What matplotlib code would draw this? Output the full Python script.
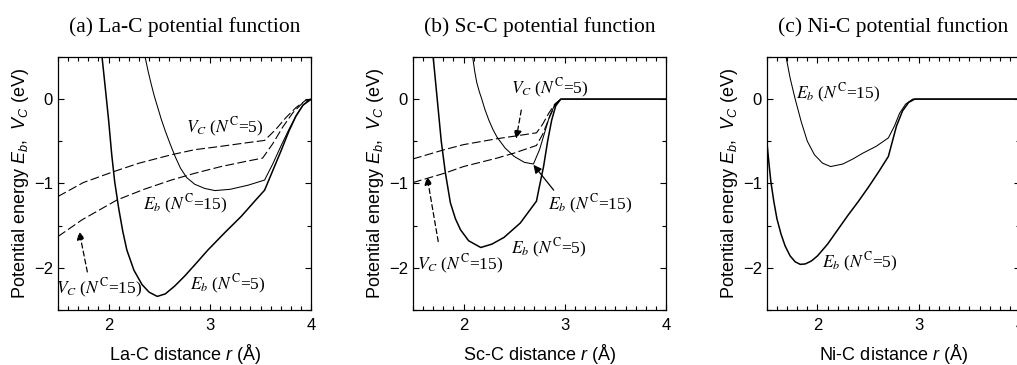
import matplotlib
matplotlib.use("Agg")
import matplotlib.pyplot as plt
from matplotlib.ticker import MultipleLocator

plt.rcParams['font.family'] = ['Liberation Sans', 'DejaVu Sans']
plt.rcParams['mathtext.fontset'] = 'custom'
plt.rcParams['mathtext.rm'] = 'Liberation Sans'
plt.rcParams['mathtext.it'] = 'Liberation Sans:italic'

# ---- (a) La-C ----
la_eb5_r = [1.935, 1.97, 2.0, 2.03, 2.06, 2.1, 2.14, 2.18, 2.25, 2.33, 2.4, 2.48, 2.56, 2.65, 2.75, 2.87,
            2.98, 3.15, 3.31, 3.45, 3.54, 3.62, 3.7, 3.78, 3.85, 3.92, 4.0]
la_eb5_e = [0.5, 0.1, -0.25, -0.65, -0.98, -1.3, -1.57, -1.79, -2.03, -2.2, -2.29, -2.34, -2.31, -2.22, -2.1,
            -1.94, -1.79, -1.58, -1.39, -1.2, -1.08, -0.85, -0.62, -0.38, -0.2, -0.07, 0.0]
la_eb15_r = [2.36, 2.39, 2.42, 2.45, 2.48, 2.52, 2.56, 2.61, 2.66, 2.71, 2.77, 2.85, 2.95, 3.05, 3.2,
             3.38, 3.54, 3.62, 3.7, 3.78, 3.85, 3.92, 4.0]
la_eb15_e = [0.5, 0.33, 0.18, 0.04, -0.08, -0.24, -0.38, -0.54, -0.69, -0.82, -0.93, -1.01, -1.06, -1.085,
             -1.07, -1.02, -0.96, -0.77, -0.56, -0.36, -0.2, -0.07, 0.0]
la_vc5_r = [1.5, 1.75, 2.05, 2.3, 2.62, 2.85, 3.11, 3.35, 3.54, 3.65, 3.75, 3.85, 3.95, 4.0]
la_vc5_e = [-1.155, -0.99, -0.86, -0.76, -0.66, -0.6, -0.56, -0.52, -0.49, -0.36, -0.22, -0.1, -0.01, 0.0]
la_vc15_r = [1.5, 1.74, 2.085, 2.35, 2.62, 2.85, 3.11, 3.35, 3.52, 3.62, 3.72, 3.82, 3.92, 4.0]
la_vc15_e = [-1.63, -1.43, -1.195, -1.07, -0.96, -0.88, -0.8, -0.74, -0.7, -0.53, -0.33, -0.16, -0.04, 0.0]

# ---- (b) Sc-C ----
sc_eb5_r = [1.7, 1.74, 1.78, 1.82, 1.87, 1.92, 1.97, 2.05, 2.17, 2.28, 2.4, 2.56, 2.72, 2.75, 2.79,
            2.83, 2.87, 2.91, 2.96, 4.0]
sc_eb5_e = [0.5, 0.0, -0.5, -0.87, -1.23, -1.42, -1.55, -1.68, -1.76, -1.72, -1.64, -1.47, -1.21, -1.03,
            -0.8, -0.5, -0.25, -0.08, 0.0, 0.0]
sc_eb15_r = [2.09, 2.11, 2.13, 2.155, 2.18, 2.21, 2.25, 2.29, 2.33, 2.41, 2.5, 2.6, 2.69, 2.75, 2.8,
             2.85, 2.9, 2.96, 4.0]
sc_eb15_e = [0.5, 0.33, 0.2, 0.09, 0.0, -0.12, -0.25, -0.36, -0.45, -0.58, -0.68, -0.75, -0.77, -0.6,
             -0.4, -0.2, -0.07, 0.0, 0.0]
sc_vc5_r = [1.5, 1.81, 2.0, 2.33, 2.5, 2.72, 2.78, 2.84, 2.9, 2.96]
sc_vc5_e = [-0.71, -0.6, -0.54, -0.47, -0.44, -0.4, -0.3, -0.17, -0.06, 0.0]
sc_vc15_r = [1.5, 1.81, 2.0, 2.33, 2.5, 2.72, 2.78, 2.84, 2.9, 2.96]
sc_vc15_e = [-0.99, -0.88, -0.8, -0.7, -0.64, -0.55, -0.42, -0.24, -0.08, 0.0]

# ---- (c) Ni-C ----
ni_eb5_r = [1.5, 1.52, 1.54, 1.57, 1.6, 1.64, 1.68, 1.73, 1.78, 1.83, 1.88, 1.94, 2.0, 2.1, 2.2, 2.3,
            2.4, 2.5, 2.6, 2.7, 2.78, 2.84, 2.9, 2.96, 4.0]
ni_eb5_e = [-0.5, -0.75, -0.98, -1.22, -1.42, -1.6, -1.74, -1.86, -1.93, -1.96, -1.955, -1.92, -1.86,
            -1.72, -1.55, -1.38, -1.22, -1.05, -0.87, -0.68, -0.32, -0.14, -0.04, 0.0, 0.0]
ni_eb15_r = [1.69, 1.73, 1.78, 1.84, 1.9, 1.97, 2.05, 2.13, 2.25, 2.35, 2.45, 2.58, 2.7, 2.76, 2.81,
             2.87, 2.94, 4.0]
ni_eb15_e = [0.5, 0.25, 0.0, -0.27, -0.5, -0.66, -0.76, -0.8, -0.77, -0.71, -0.64, -0.56, -0.46,
             -0.32, -0.17, -0.06, 0.0, 0.0]

titles = ['(a) La-C potential function', '(b) Sc-C potential function', '(c) Ni-C potential function']
xlabels = ['La-C distance $r$ (Å)', 'Sc-C distance $r$ (Å)', 'Ni-C distance $r$ (Å)']
ylabel = 'Potential energy $E_b$,  $V_C$ (eV)'

fig = plt.figure(figsize=(10.17, 3.65), dpi=100)
lefts = [0.057, 0.406, 0.754]
axes = [fig.add_axes([l, 0.151, 0.249, 0.693]) for l in lefts]

dash = (0, (8, 3))
ser = dict(family='Liberation Serif', math_fontfamily='stix', fontsize=12.5)


def lbl(sym, n):
    return '$%s$ ($N^{\\mathrm{C}}$=%d)' % (sym, n)


def arrow(ax, xy, xytext, dashed):
    ax.annotate('', xy=xy, xytext=xytext,
                arrowprops=dict(arrowstyle='-|>', lw=0.9, color='k', mutation_scale=12,
                                linestyle=(0, (4, 2.5)) if dashed else '-', shrinkA=0, shrinkB=0))


ax = axes[0]
ax.plot(la_eb5_r, la_eb5_e, 'k-', lw=1.1)
ax.plot(la_eb15_r, la_eb15_e, 'k-', lw=0.75)
ax.plot(la_vc5_r, la_vc5_e, color='k', ls=dash, lw=0.8)
ax.plot(la_vc15_r, la_vc15_e, color='k', ls=dash, lw=0.8)
ax.text(3.15, -0.34, lbl('V_C', 5), ha='center', va='center', **ser)
ax.text(2.76, -1.25, lbl('E_b', 15), ha='center', va='center', **ser)
ax.text(1.91, -2.24, lbl('V_C', 15), ha='center', va='center', **ser)
ax.text(3.18, -2.2, lbl('E_b', 5), ha='center', va='center', **ser)
arrow(ax, (1.71, -1.57), (1.79, -2.05), True)

ax = axes[1]
ax.plot(sc_eb5_r, sc_eb5_e, 'k-', lw=1.1)
ax.plot(sc_eb15_r, sc_eb15_e, 'k-', lw=0.75)
ax.plot(sc_vc5_r, sc_vc5_e, color='k', ls=dash, lw=0.8)
ax.plot(sc_vc15_r, sc_vc15_e, color='k', ls=dash, lw=0.8)
ax.text(2.85, 0.13, lbl('V_C', 5), ha='center', va='center', **ser)
ax.text(3.25, -1.25, lbl('E_b', 15), ha='center', va='center', **ser)
ax.text(2.84, -1.77, lbl('E_b', 5), ha='center', va='center', **ser)
ax.text(1.97, -1.96, lbl('V_C', 15), ha='center', va='center', **ser)
arrow(ax, (2.52, -0.47), (2.57, -0.13), True)
arrow(ax, (2.69, -0.78), (2.89, -1.08), False)
arrow(ax, (1.64, -0.92), (1.75, -1.69), True)

ax = axes[2]
ax.plot(ni_eb5_r, ni_eb5_e, 'k-', lw=1.1)
ax.plot(ni_eb15_r, ni_eb15_e, 'k-', lw=0.75)
ax.text(2.2, 0.07, lbl('E_b', 15), ha='center', va='center', **ser)
ax.text(2.42, -1.94, lbl('E_b', 5), ha='center', va='center', **ser)

for ax, t, xl in zip(axes, titles, xlabels):
    ax.set_xlim(1.5, 4)
    ax.set_ylim(-2.5, 0.5)
    ax.xaxis.set_major_locator(MultipleLocator(1))
    ax.xaxis.set_minor_locator(MultipleLocator(0.1))
    ax.yaxis.set_major_locator(MultipleLocator(1))
    ax.yaxis.set_minor_locator(MultipleLocator(0.5))
    ax.set_yticks([0, -1, -2])
    ax.set_yticklabels(['0', '\u22121', '\u22122'])
    ax.tick_params(which='both', direction='in', top=True, right=True, labelsize=12, width=0.8)
    ax.tick_params(which='major', length=4.5)
    ax.tick_params(which='minor', length=3)
    ax.tick_params(axis='x', pad=6)
    ax.set_title(t, family='Liberation Serif', fontsize=15.5, pad=18)
    ax.set_xlabel(xl, fontsize=13, labelpad=6)
    ax.set_ylabel(ylabel, fontsize=13, labelpad=2)
    for s in ax.spines.values():
        s.set_linewidth(0.9)

fig.savefig('out.png', dpi=100)
